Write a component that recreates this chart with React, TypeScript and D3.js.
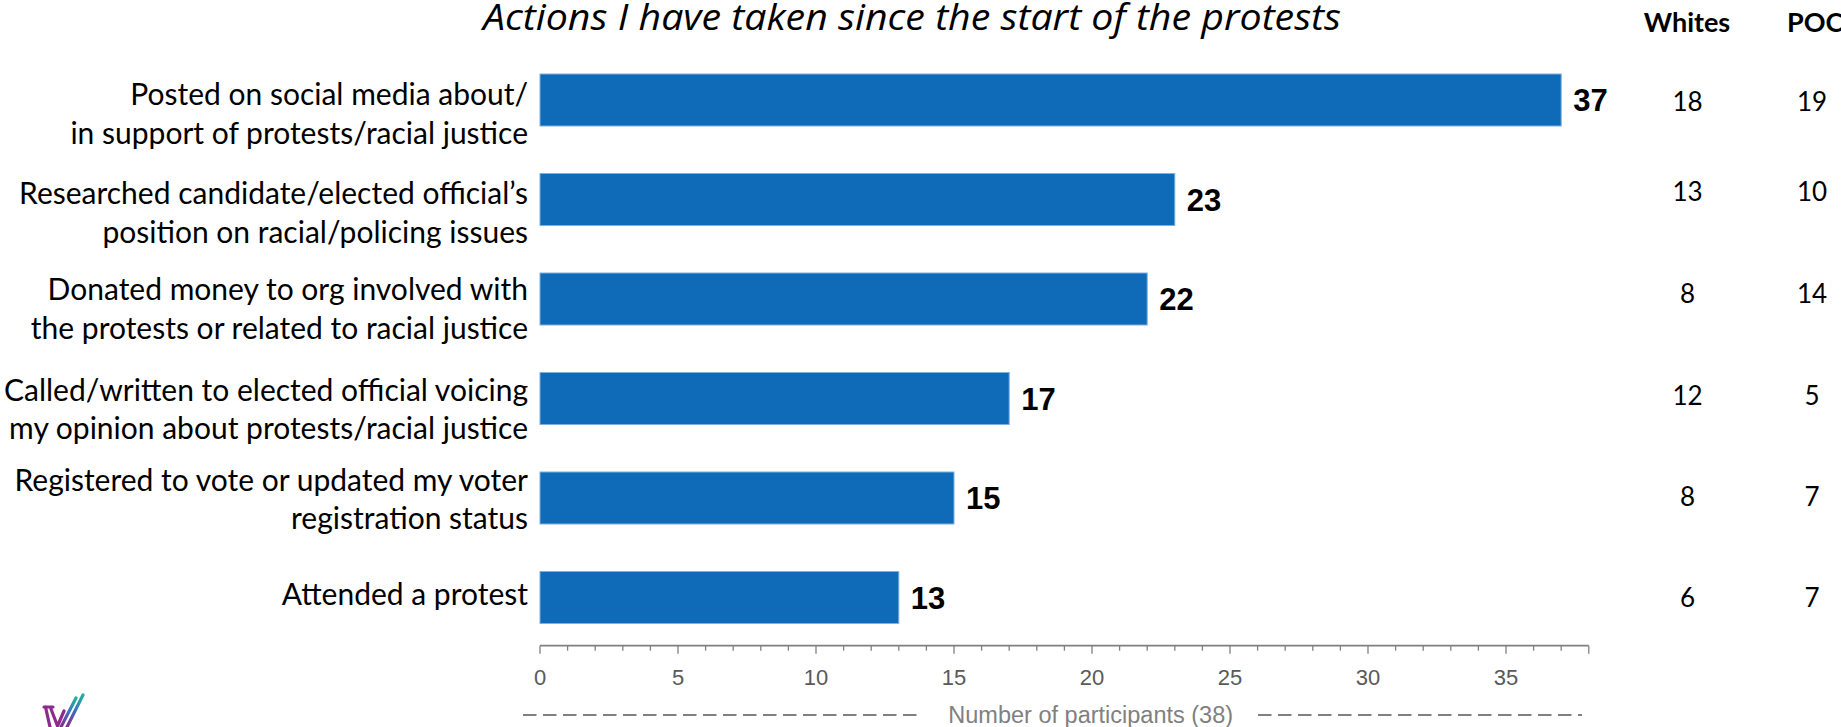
import React from "react";
import * as d3 from "d3";

const title = "Actions I have taken since the start of the protests";
const categories: string[][] = [
  ["Posted on social media about/", "in support of protests/racial justice"],
  ["Researched candidate/elected official\u2019s", "position on racial/policing issues"],
  ["Donated money to org involved with", "the protests or related to racial justice"],
  ["Called/written to elected official voicing", "my opinion about protests/racial justice"],
  ["Registered to vote or updated my voter", "registration status"],
  ["Attended a protest"],
];
const totals = [37, 23, 22, 17, 15, 13];
const whites = [18, 13, 8, 12, 8, 6];
const poc = [19, 10, 14, 5, 7, 7];
const tableHeaders = ["Whites", "POC"];
const xMax = 38;
const xTickLabels = [0, 5, 10, 15, 20, 25, 30, 35];
const axisTitle = "Number of participants (38)";

// layout (not data)
const W = 1841;
const H = 727;
const labelOffsets = [5, 4.5, 1, 2, -7.5, 7.5];
const tableOffsets = [2, -8, -5.5, -3, -1, 0.5];

export default function App() {
  const x = d3.scaleLinear().domain([0, xMax]).range([540, 1588.8]);
  const idx = d3.range(totals.length);
  const p = 1 - 52 / 99.5;
  const y = d3
    .scaleBand<number>()
    .domain(idx)
    .range([50.25, 647.25])
    .paddingInner(p)
    .paddingOuter(p / 2);
  const axisY = 645.7;
  const minorTicks = d3.range(0, xMax + 1, 1);
  const center = (i: number) => (y(i) as number) + y.bandwidth() / 2;

  return (
    <svg
      width={W}
      height={H}
      style={{ position: "absolute", left: 0, top: 0, background: "#fff" }}
    >
      <defs>
        <linearGradient id="lg" x1="0" y1="1" x2="1" y2="0">
          <stop offset="0" stopColor="#8e2a8c" />
          <stop offset="0.5" stopColor="#3d6fc0" />
          <stop offset="1" stopColor="#1fb39a" />
        </linearGradient>
      </defs>
      <rect x={0} y={0} width={W} height={H} fill="#fff" />
      <text
        x={483}
        y={30}
        textLength={858}
        lengthAdjust="spacingAndGlyphs"
        fontFamily="'Open Sans'"
        fontStyle="italic"
        fontSize={37}
        fill="#000"
      >
        {title}
      </text>
      {tableHeaders.map((h, k) => (
        <text
          key={h}
          x={k === 0 ? 1687 : 1787}
          y={32.3}
          textAnchor={k === 0 ? "middle" : "start"}
          fontFamily="Lato"
          fontWeight="bold"
          fontSize={27}
          fill="#000"
        >
          {h}
        </text>
      ))}
      {idx.map((i) => (
        <g key={i}>
          <rect
            x={x(0)}
            y={y(i)}
            width={x(totals[i]) - x(0)}
            height={y.bandwidth()}
            fill="#0f6ab8"
            stroke="#7fb0e0"
            strokeWidth={1}
          />
          <text
            x={x(totals[i]) + 12}
            y={center(i) + 11.2}
            fontFamily="'Liberation Sans', Arial"
            fontWeight="bold"
            fontSize={31}
            fill="#000"
          >
            {totals[i]}
          </text>
          {categories[i].map((line, j) => (
            <text
              key={j}
              x={528}
              y={center(i) + labelOffsets[i] + j * 38.5}
              textAnchor="end"
              fontFamily="Lato"
              fontSize={30}
              fill="#000"
            >
              {line}
            </text>
          ))}
          <text
            x={1687.5}
            y={center(i) + tableOffsets[i] + 9}
            textAnchor="middle"
            fontFamily="Lato"
            fontSize={26}
            fill="#000"
          >
            {whites[i]}
          </text>
          <text
            x={1812}
            y={center(i) + tableOffsets[i] + 9}
            textAnchor="middle"
            fontFamily="Lato"
            fontSize={26}
            fill="#000"
          >
            {poc[i]}
          </text>
        </g>
      ))}
      <line
        x1={x(0)}
        x2={x(xMax)}
        y1={axisY}
        y2={axisY}
        stroke="#808080"
        strokeWidth={1.8}
      />
      {minorTicks.map((t) => (
        <line
          key={t}
          x1={x(t)}
          x2={x(t)}
          y1={axisY}
          y2={axisY + (t % 5 === 0 || t === xMax ? 8 : 5)}
          stroke="#808080"
          strokeWidth={1.3}
        />
      ))}
      {xTickLabels.map((t) => (
        <text
          key={t}
          x={x(t)}
          y={684.5}
          textAnchor="middle"
          fontFamily="'Liberation Sans', Arial"
          fontSize={22}
          fill="#595959"
        >
          {t}
        </text>
      ))}
      <line
        x1={523}
        x2={922}
        y1={715}
        y2={715}
        stroke="#808080"
        strokeWidth={1.9}
        strokeDasharray="13.5 6.5"
      />
      <line
        x1={1258}
        x2={1582}
        y1={715}
        y2={715}
        stroke="#808080"
        strokeWidth={1.9}
        strokeDasharray="13.5 6.5"
      />
      <text
        x={1090.7}
        y={723}
        textAnchor="middle"
        fontFamily="'Liberation Sans', Arial"
        fontSize={23.5}
        fill="#808080"
      >
        {axisTitle}
      </text>
      <g fill="none" strokeLinecap="round" strokeLinejoin="round">
        <path
          d="M44 707 L53 707 M45.5 707 L50 727 M51 709 L57.5 726 L64 711"
          stroke="#8e2a8c"
          strokeWidth={3.2}
        />
        <path d="M61 727 L76 698" stroke="url(#lg)" strokeWidth={3.2} />
        <path d="M67 727 L83 695" stroke="url(#lg)" strokeWidth={3.2} />
      </g>
    </svg>
  );
}
